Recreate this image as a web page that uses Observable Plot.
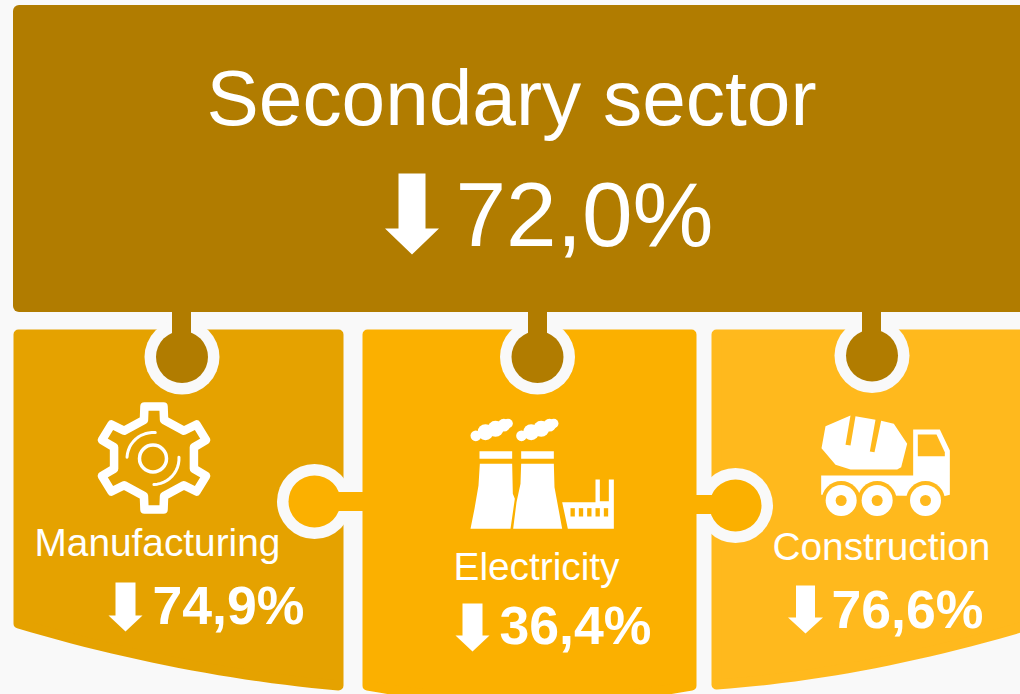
<!DOCTYPE html>
<html>
<head>
<meta charset="utf-8">
<style>html,body{margin:0;padding:0;background:#f9f9f9;overflow:hidden}svg{display:block}</style>
<script src="https://cdn.jsdelivr.net/npm/d3@7"></script>
<script src="https://cdn.jsdelivr.net/npm/@observablehq/plot@0.6"></script>
</head>
<body>
<script>
// ---- data ----
const headline = "Secondary sector";
const headlineValue = 72.0;
const sectors = ["Manufacturing", "Electricity", "Construction"];
const sectorValues = [74.9, 36.4, 76.6];

// ---- layout & style (separate from the data) ----
const BG = "#f9f9f9", DARK = "#b17c00", C1 = "#e5a200", C2 = "#fbb000", C3 = "#ffb91d";
const FONT = "'Liberation Sans', Arial, sans-serif";
const fmt = v => v.toFixed(1).replace(".", ",") + "%";

const marks = [];
const X = d => d[0], Y = d => d[1];
const poly = (pts, fill, o = {}) => marks.push(Plot.line(pts, {x: X, y: Y, fill, stroke: null, ...o}));
const box = (x1, y1, x2, y2, fill, rx = 0) =>
  marks.push(Plot.rect([0], {x1: () => x1, y1: () => y1, x2: () => x2, y2: () => y2, fill, rx}));
const disc = (x, y, r, fill, o = {}) =>
  marks.push(Plot.dot([0], {x: () => x, y: () => y, r, fill, stroke: null, ...o}));
const label = (text, x, y, fontSize, fontWeight = "normal") =>
  marks.push(Plot.text([text], {x: () => x, y: () => y, text: d => d, fontSize, fontWeight,
    fontFamily: FONT, fill: "white", textAnchor: "start", lineAnchor: "bottom"}));
const quad = (a, c, b, n = 24) => d3.range(n + 1).map(i => {
  const t = i / n, u = 1 - t;
  return [u*u*a[0] + 2*u*t*c[0] + t*t*b[0], u*u*a[1] + 2*u*t*c[1] + t*t*b[1]];
});
const at = (ox, oy, s) => pts => pts.map(p => [ox + p[0] / s, oy + p[1] / s]);
const R = 5; // card corner radius
const card = (top, bottom, fill) => poly([...top, ...bottom, top[0]],
  fill, {stroke: fill, strokeWidth: 2 * R, strokeLinejoin: "round"});

// header
box(13, 5, 1040, 312, DARK, 6);

// cards
card([[13 + R, 329 + R], [343 - R, 329 + R]], quad([343 - R, 690 - R], [180, 676 - R], [13 + R, 628 - R]), C1);
card([[362 + R, 329 + R], [696 - R, 329 + R]], quad([696 - R, 690 - R], [529, 720 - R], [362 + R, 690 - R]), C2);
card([[711 + R, 329 + R], [1040, 329 + R]], quad([1040, 621], [870, 678 - R], [711 + R, 689 - R]), C3);

// connectors
const rOut = 37.5, rIn = 26;
[[181.5, 356.5, 172, 191], [537, 356.5, 528, 547], [871.5, 355, 862, 881]].forEach(([x, y, a, b]) => {
  disc(x, y, rOut, BG);
  disc(x, y, rIn, DARK);
  box(a, 312, b, y - 10, DARK);
});
[[314, 501, 335, 363, 492, 511], [735, 505, 695, 713, 495, 514]].forEach(([x, y, a, b, t, u]) => {
  disc(x, y, rOut, BG);
  disc(x, y, rIn, C2);
  box(a, t, b, u, C2);
});

// down arrows
const arrow = (x, top, neck, tip, shaft, head) => poly([
  [x - shaft, top], [x + shaft, top], [x + shaft, neck], [x + head, neck],
  [x, tip], [x - head, neck], [x - shaft, neck]], "white");
arrow(411.5, 173, 228, 254, 13.5, 27);
arrow(125, 582, 615, 631, 10, 17);
arrow(472, 603, 635, 651, 10, 17);
arrow(805, 585, 617, 633, 9.5, 17.5);

// gear icon
const gx = 153.5, gy = 457.5;
const gearPts = [];
d3.range(6).forEach(i => {
  const a = (-90 + 60 * i) * Math.PI / 180;
  const ca = Math.cos(a), sa = Math.sin(a);
  [[38, -9.5], [51.5, -9], [51.5, 9], [38, 9.5]].forEach(([r, t]) =>
    gearPts.push([gx + 1.06 * (r * ca - t * sa), gy + r * sa + t * ca]));
});
gearPts.push(gearPts[0]);
marks.push(Plot.line(gearPts, {x: X, y: Y, stroke: "white", strokeWidth: 8.5, strokeLinejoin: "round"}));
disc(152.5, 458, 13.5, "none", {stroke: "white", strokeWidth: 3.5});
const arc = (a0, a1, r = 26) => d3.range(13).map(i => {
  const a = (a0 + (a1 - a0) * i / 12) * Math.PI / 180;
  return [152.5 + r * Math.cos(a), 458 + r * Math.sin(a)];
});
marks.push(Plot.line(arc(183, 275), {x: X, y: Y, stroke: "white", strokeWidth: 3, strokeLinecap: "round"}));
marks.push(Plot.line(arc(-3, 88), {x: X, y: Y, stroke: "white", strokeWidth: 3, strokeLinecap: "round"}));

// power plant icon
const pp = at(460, 410, 3);
[0, 137].forEach(dx => {
  [[46,76,16],[75,65,24],[105,55,24],[130,44,19],[143,39,14]].forEach(([x, y, r]) => {
    const [[px, py]] = pp([[x + dx, y]]);
    disc(px, py, r / 3, "white");
  });
});
poly(pp([[57,122],[155,122],[155,145],[57,145]]), "white");
poly(pp([[182,122],[280,122],[280,145],[182,145]]), "white");
poly(pp([[58,160],[155,160],[157,250],[163,265],[150,355],[30,355],[42,295],[54,225]]), "white");
poly(pp([[182,160],[280,160],[282,230],[305,355],[158,355],[168,275],[180,220]]), "white");
poly(pp([[305,275],[405,275],[405,207],[418,207],[418,272],[445,272],[445,207],[460,207],[460,355],[322,355]]), "white");
[330, 355, 380, 405, 430].forEach(x => poly(pp([[x,293],[x+13,293],[x+13,318],[x,318]]), C2));

// mixer truck icon
const tr = at(810, 405, 3);
poly(tr([[45,62],[120,30],[105,118],[120,120],[135,32],[195,43],[178,138],[192,140],[212,46],[250,55],[290,115],[272,185],[260,192],[120,192],[75,178],[33,128]]), "white");
poly(tr([[32,210],[308,210],[308,72],[388,72],[418,135],[418,268],[400,272],[32,268]]), "white");
poly(tr([[322,87],[378,87],[403,140],[403,152],[322,152]]), C3);
[[92, 285], [200, 285], [345, 285]].forEach(w => {
  const [[x, y]] = tr([w]);
  disc(x, y, 19.5, C3);
  disc(x, y, 15.5, "white");
  disc(x, y, 5.5, C3);
});

// text
label(headline, 206, 124, 78.4);
label(fmt(headlineValue), 455, 245, 91);
label(sectors[0], 34, 555, 38.8);
label(sectors[1], 453, 579, 38.8);
label(sectors[2], 772, 559, 38.8);
label(fmt(sectorValues[0]), 152, 623, 53.6, "bold");
label(fmt(sectorValues[1]), 499, 643, 53.6, "bold");
label(fmt(sectorValues[2]), 831, 627, 53.6, "bold");

document.body.append(Plot.plot({
  width: 1020, height: 694,
  margin: 0,
  x: {domain: [0, 1020], range: [0, 1020], axis: null},
  y: {domain: [0, 694], range: [0, 694], axis: null},
  style: {background: BG},
  marks
}));
</script>
</body>
</html>
